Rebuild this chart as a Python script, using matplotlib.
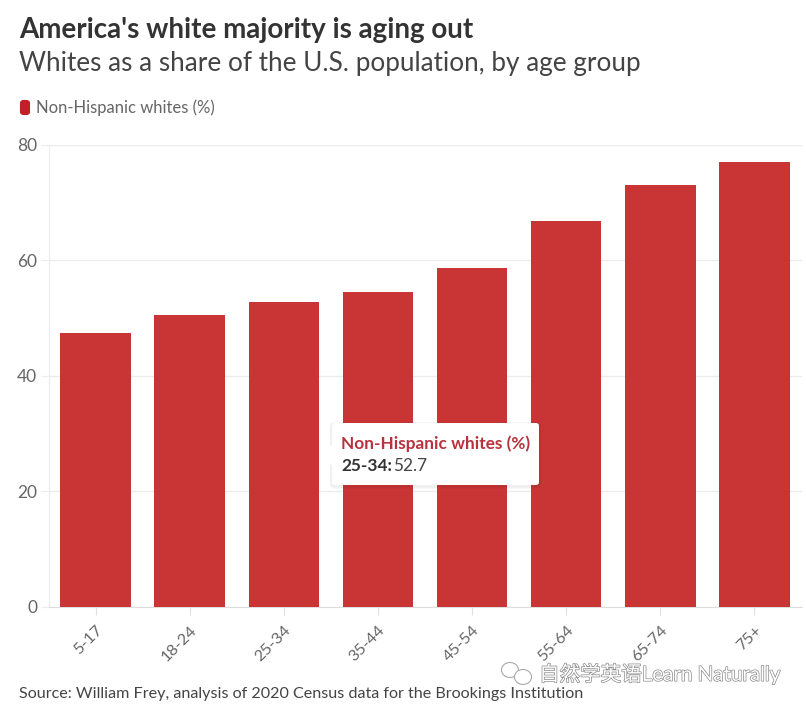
import matplotlib
matplotlib.use("Agg")
import matplotlib.pyplot as plt
import matplotlib.patheffects as pe
from matplotlib.patches import FancyBboxPatch, Polygon, Ellipse

plt.rcParams['font.family'] = ['Lato', 'Noto Sans CJK SC', 'DejaVu Sans']

ages = ["5-17", "18-24", "25-34", "35-44", "45-54", "55-64", "65-74", "75+"]
white_share = [47.4, 50.5, 52.7, 54.5, 58.7, 66.9, 73.1, 77.1]
y_ticks = [0, 20, 40, 60, 80]

W, H = 806, 711
RED = "#c93535"
DARK = "#333333"
GREY = "#666666"

fig = plt.figure(figsize=(W / 100, H / 100), dpi=100)
ax = fig.add_axes([48.5 / W, 1 - 606.5 / H, 753 / W, 461.5 / H])

# chart
ax.bar(range(len(ages)), white_share, width=0.75, color=RED, zorder=3)
ax.set_xlim(-0.5, len(ages) - 0.5)
ax.set_ylim(0, 80)
ax.set_yticks(y_ticks)
ax.set_xticks(range(len(ages)))
ax.set_xticklabels(ages, rotation=45, ha="right", rotation_mode="anchor")
ax.grid(axis="y", color="#ececec", lw=1, zorder=0)
ax.tick_params(axis="y", length=6, color="#ececec", labelsize=12.5, labelcolor=GREY, pad=2)
ax.tick_params(axis="x", length=6, color="#e0e0e0", labelsize=11.7, labelcolor=GREY, pad=6)
for s in ["top", "right"]:
    ax.spines[s].set_visible(False)
ax.spines["left"].set_color("#ececec")
ax.spines["bottom"].set_color("#dddddd")

# everything below is placed in pixels of the figure, y from the top
def px(x, y):
    return x / W, 1 - y / H

# heading
fig.text(*px(19, 30), "America's white majority is aging out", fontsize=20,
         fontweight="bold", color=DARK, va="center")
fig.text(*px(19, 63), "Whites as a share of the U.S. population, by age group", fontsize=18.85,
         color="#444444", va="center")

# legend
fig.add_artist(FancyBboxPatch(px(21, 114), 8 / W, 13 / H, boxstyle="round,pad=0,rounding_size=0.003",
                              transform=fig.transFigure, fc="#c12026", ec="#c12026", lw=1.5))
fig.text(*px(36, 108), "Non-Hispanic whites (%)", fontsize=12, color=GREY, va="center")

# tooltip for the 25-34 bar
shadow = [pe.SimpleLineShadow(offset=(0, -1), shadow_color="#000000", alpha=0.06, linewidth=3), pe.Normal()]
fig.add_artist(FancyBboxPatch(px(332, 485), 207 / W, 62 / H, boxstyle="round,pad=0,rounding_size=0.004",
                              transform=fig.transFigure, fc="white", ec="none", lw=0,
                              path_effects=shadow, zorder=5))
fig.add_artist(Polygon([px(333, 443), px(322, 455), px(333, 467)], closed=True,
                       transform=fig.transFigure, fc="white", ec="none", zorder=6))
fig.text(*px(341, 444), "Non-Hispanic whites (%)", fontsize=12.45, fontweight="bold",
         color="#b8323d", va="center", zorder=7)
fig.text(*px(341, 466), "25-34:", fontsize=12.45, fontweight="bold", color=DARK, va="center", zorder=7)
fig.text(*px(393, 466), "52.7", fontsize=12.45, color="#444444", va="center", zorder=7)

# source
fig.text(*px(19, 694), "Source: William Frey, analysis of 2020 Census data for the Brookings Institution",
         fontsize=11.6, color="#444444", va="center", zorder=2)

# watermark
outline = [pe.withStroke(linewidth=1.0, foreground="#8a8a8a")]
fig.text(*px(539, 674), "自然学英语Learn Naturally", fontsize=14.8, color="white", va="center",
         path_effects=outline, zorder=8)
for cx, cy, w, h in [(510, 670, 17, 15), (523, 677, 17, 15)]:
    fig.add_artist(Ellipse(px(cx, cy), w / W, h / H, transform=fig.transFigure,
                           fc="white", ec="#aaaaaa", lw=0.8, zorder=8))

fig.savefig("out.png", dpi=100)
